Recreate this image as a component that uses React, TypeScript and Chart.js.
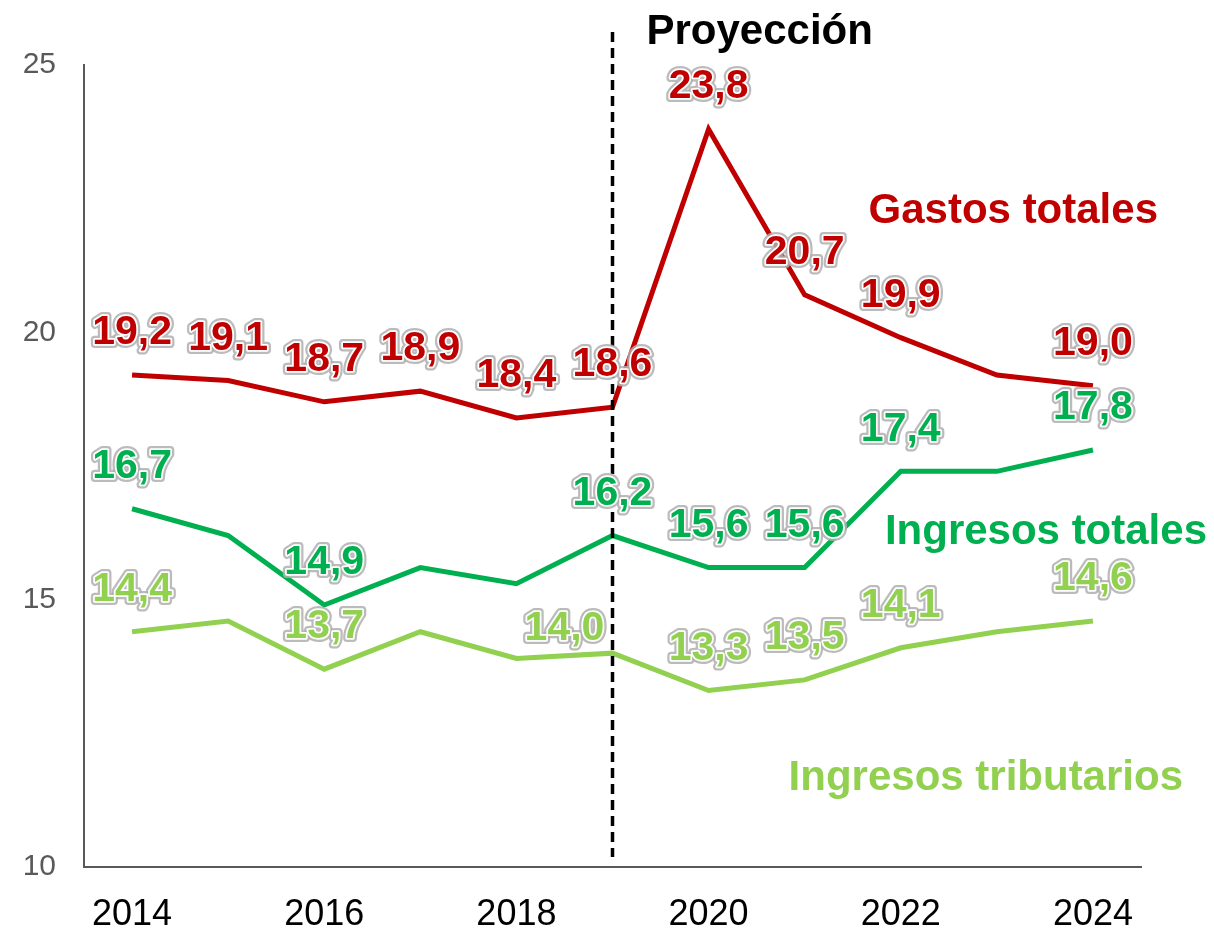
import React, { useEffect, useRef } from "react";
import { Chart, registerables } from "chart.js";

Chart.register(...registerables);

const years = ["2014", "2015", "2016", "2017", "2018", "2019", "2020", "2021", "2022", "2023", "2024"];
const gastosTotales = [19.2, 19.1, 18.7, 18.9, 18.4, 18.6, 23.8, 20.7, 19.9, 19.2, 19.0];
const ingresosTotales = [16.7, 16.2, 14.9, 15.6, 15.3, 16.2, 15.6, 15.6, 17.4, 17.4, 17.8];
const ingresosTributarios = [14.4, 14.6, 13.7, 14.4, 13.9, 14.0, 13.3, 13.5, 14.1, 14.4, 14.6];
const gastosLabeled = [true, true, true, true, true, true, true, true, true, false, true];
const ingresosLabeled = [true, false, true, false, false, true, true, true, true, false, true];
const tributariosLabeled = [true, false, true, false, false, true, true, true, true, false, true];
const seriesNames = ["Gastos totales", "Ingresos totales", "Ingresos tributarios"];
const colors = ["#C00000", "#00B050", "#92D050"];
const yTicks = [10, 15, 20, 25];
const projectionIndex = 5;
const projectionLabel = "Proyección";

const FONT = "'Liberation Sans', Arial, sans-serif";

const overlayPlugin = {
  id: "overlay",
  afterDatasetsDraw(chart: any) {
    const ctx = chart.ctx;
    const xs = chart.scales.x;
    const ys = chart.scales.y;
    ctx.save();
    // dashed projection line
    const px = xs.getPixelForValue(projectionIndex);
    ctx.beginPath();
    ctx.setLineDash([10, 6]);
    ctx.lineWidth = 3.5;
    ctx.strokeStyle = "#000";
    ctx.moveTo(px, 32);
    ctx.lineTo(px, ys.bottom - 10);
    ctx.stroke();
    ctx.setLineDash([]);
    ctx.font = `bold 42px ${FONT}`;
    ctx.fillStyle = "#000";
    ctx.textAlign = "left";
    ctx.textBaseline = "middle";
    ctx.fillText(projectionLabel, px + 34, 32);

    // data labels
    const labelFlags = [gastosLabeled, ingresosLabeled, tributariosLabeled];
    chart.data.datasets.forEach((ds: any, di: number) => {
      const meta = chart.getDatasetMeta(di);
      meta.data.forEach((pt: any, i: number) => {
        if (!labelFlags[di][i]) return;
        let dx = 0;
        let dy = -42;
        if (di === 2 && i === projectionIndex) {
          dx = -48;
          dy = -24;
        }
        const txt = ds.data[i].toFixed(1).replace(".", ",");
        const x = pt.x + dx;
        const y = pt.y + dy;
        ctx.font = `bold 41px ${FONT}`;
        ctx.textAlign = "center";
        ctx.textBaseline = "middle";
        ctx.lineJoin = "round";
        ctx.strokeStyle = "rgba(175,175,175,0.85)";
        ctx.lineWidth = 8;
        ctx.strokeText(txt, x, y);
        ctx.strokeStyle = "#ffffff";
        ctx.lineWidth = 3.5;
        ctx.strokeText(txt, x, y);
        ctx.fillStyle = colors[di];
        ctx.fillText(txt, x, y);
      });
    });

    // series names
    ctx.font = `bold 42px ${FONT}`;
    ctx.textAlign = "right";
    ctx.textBaseline = "middle";
    const namePos = [
      [1158, 211],
      [1207, 532],
      [1183, 778],
    ];
    seriesNames.forEach((n, i) => {
      ctx.fillStyle = colors[i];
      ctx.fillText(n, namePos[i][0], namePos[i][1]);
    });
    ctx.restore();
  },
};

export default function App() {
  const ref = useRef<HTMLCanvasElement>(null);
  useEffect(() => {
    document.body.style.margin = "0";
    const chart = new Chart(ref.current!, {
      type: "line",
      data: {
        labels: years,
        datasets: [gastosTotales, ingresosTotales, ingresosTributarios].map((d, i) => ({
          label: seriesNames[i],
          data: d,
          borderColor: colors[i],
          backgroundColor: colors[i],
          borderWidth: 5,
          pointRadius: 0,
          tension: 0,
          fill: false,
        })),
      },
      options: {
        animation: false,
        responsive: false,
        maintainAspectRatio: false,
        layout: { padding: { top: 65, right: 73, bottom: 0, left: 0 } },
        plugins: { legend: { display: false }, tooltip: { enabled: false } },
        scales: {
          x: {
            offset: true,
            grid: { display: false, drawTicks: false },
            border: { display: true, color: "#595959", width: 2 },
            ticks: {
              color: "#000",
              font: { family: FONT, size: 36 },
              padding: 26,
              autoSkip: false,
              maxRotation: 0,
              callback: (v: any, i: number) => (i % 2 === 0 ? years[i] : ""),
            },
            afterFit: (s: any) => {
              s.height = 61;
            },
          },
          y: {
            min: 10,
            max: 25,
            grid: { display: false, drawTicks: false },
            border: { display: true, color: "#595959", width: 2 },
            afterBuildTicks: (s: any) => {
              s.ticks = yTicks.map((v) => ({ value: v }));
            },
            ticks: {
              color: "#595959",
              font: { family: FONT, size: 30 },
              padding: 28,
            },
            afterFit: (s: any) => {
              s.width = 84;
            },
          },
        },
      },
      plugins: [overlayPlugin],
    });
    return () => chart.destroy();
  }, []);
  return (
    <div style={{ position: "absolute", left: 0, top: 0, width: 1214, height: 928 }}>
      <canvas ref={ref} width={1214} height={928} style={{ width: 1214, height: 928 }} />
    </div>
  );
}
